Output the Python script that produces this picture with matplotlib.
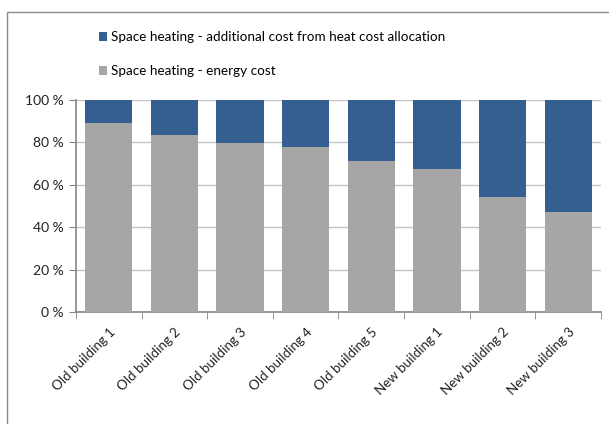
import matplotlib
matplotlib.use("Agg")
import matplotlib.pyplot as plt
from matplotlib.patches import Rectangle
import numpy as np

categories = ["Old building 1", "Old building 2", "Old building 3", "Old building 4",
              "Old building 5", "New building 1", "New building 2", "New building 3"]
energy_cost = [89.2, 83.6, 79.9, 77.7, 71.1, 67.6, 54.4, 47.2]
additional_cost = [100 - v for v in energy_cost]
y_ticks = [0, 20, 40, 60, 80, 100]

plt.rcParams['font.family'] = ['Lato', 'DejaVu Sans']

BLUE = "#355f91"
GRAY = "#a6a6a6"
AXIS = "#868686"
GRID = "#c4c4c4"

W, H = 609, 424
fig = plt.figure(figsize=(W / 100, H / 100), dpi=100)

# outer chart border
fig.patches.append(Rectangle((7 / W, -0.1), 1.1, (H - 12.5) / H + 0.1,
                             transform=fig.transFigure, fill=False,
                             edgecolor="#8c8c8c", linewidth=1.0))

ax = fig.add_axes([76 / W, 1 - 312 / H, (601 - 76) / W, (312 - 100) / H])
x = np.arange(len(categories))
ax.bar(x, energy_cost, width=0.72, color=GRAY, zorder=3,
       label="Space heating - energy cost")
ax.bar(x, additional_cost, bottom=energy_cost, width=0.72, color=BLUE, zorder=3,
       label="Space heating - additional cost from heat cost allocation")

ax.set_xlim(-0.5, len(categories) - 0.5)
ax.set_ylim(0, 100)
ax.set_yticks(y_ticks)
ax.set_yticklabels([f"{v} %" for v in y_ticks], fontsize=10, color="#222222")
ax.yaxis.grid(True, color=GRID, linewidth=1.0, zorder=0)
ax.set_axisbelow(True)

ax.set_xticks(x)
ax.set_xticklabels(categories, rotation=45, ha="right", rotation_mode="anchor",
                   fontsize=9.6, color="#222222")
ax.tick_params(axis="x", length=0, pad=10)
ax.set_xticks(np.arange(len(categories) + 1) - 0.5, minor=True)
ax.tick_params(axis="x", which="minor", length=5, color=AXIS, direction="out")
ax.tick_params(axis="y", length=5, color=AXIS, direction="out", pad=4)

for s in ["top", "right"]:
    ax.spines[s].set_visible(False)
for s in ["left", "bottom"]:
    ax.spines[s].set_color(AXIS)
    ax.spines[s].set_linewidth(1.2)

handles, labels = ax.get_legend_handles_labels()
fig.legend(handles[::-1], labels[::-1], loc="upper left",
           bbox_to_anchor=(99 / W, 1 - 31 / H), frameon=False,
           fontsize=9.7, handlelength=0.6, handleheight=0.6,
           handletextpad=0.3, labelspacing=1.65, borderaxespad=0, borderpad=0)

fig.savefig("out.png", dpi=100)
